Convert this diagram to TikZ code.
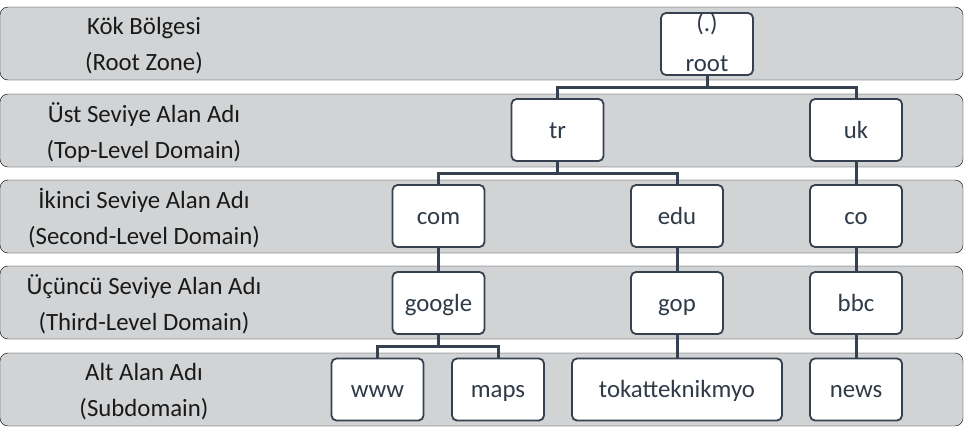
\documentclass[tikz,border=0pt]{standalone}
\usepackage{fontspec}
\setmainfont{Carlito}
\usepackage{tikz}
\usetikzlibrary{calc}

\definecolor{bandgray}{HTML}{D1D3D5}
\definecolor{linecol}{HTML}{36414F}
\definecolor{txtcol}{HTML}{2F3A48}

\tikzset{
  band/.style={fill=bandgray,rounded corners=8pt},
  bandtext/.style={align=center,text=black!90,font=\fontsize{24.8}{36}\selectfont},
  dnsbox/.style={draw=linecol,line width=1.8pt,fill=white,rounded corners=5pt,
    minimum width=92pt,minimum height=62pt,inner sep=0pt,align=center,
    text height=20pt,text depth=4pt,
    text=txtcol,font=\fontsize{24.8}{36}\selectfont},
  link/.style={draw=linecol,line width=3pt}
}

\begin{document}
\begin{tikzpicture}[x=1pt,y=-1pt]
       \useasboundingbox(0,0)rectangle(964,439);%cerceve

       \foreach \t/\a/\b in{7/Kök Bölgesi/(Root Zone),
                            94/Üst Seviye Alan Adı/(Top-Level Domain),
                            180/İkinci Seviye Alan Adı/(Second-Level Domain),
                            266/Üçüncü Seviye Alan Adı/(Third-Level Domain),
                            353/Alt Alan Adı/(Subdomain)}
           \draw[band](0,\t)rectangle(963,\t+73)
               (144,\t+38.5)node[bandtext]{\a\\\b};%seviye bantlari

       \node[dnsbox,text height=,text depth=](root)at(707,44){};%kok
       \node[txtcol,font=\fontsize{24.8}{40}\selectfont,align=center,inner sep=0pt]
           (rootlbl)at(707,43){(.)\\root};
       \node[dnsbox](tr)at(557.5,130){tr};
       \node[dnsbox](uk)at(856,130){uk};
       \node[dnsbox](com)at(438.5,216){com};
       \node[dnsbox](edu)at(677,216){edu};
       \node[dnsbox](co)at(856,216){co};
       \node[dnsbox](google)at(438.5,303){google};
       \node[dnsbox](gop)at(677,303){gop};
       \node[dnsbox](bbc)at(856,303){bbc};
       \node[dnsbox](www)at(377.5,389.5){www};
       \node[dnsbox](maps)at(498,389.5){maps};
       \node[dnsbox,minimum width=210pt](tokat)at(677,389.5){tokatteknikmyo};
       \node[dnsbox](news)at(856,389.5){news};

       \draw[link](root.south)--++(0,12)-|(tr.north);%root-tr
       \draw[link](root.south)--++(0,12)-|(uk.north);%root-uk
       \draw[link](tr.south)--++(0,12)-|(com.north);
       \draw[link](tr.south)--++(0,12)-|(edu.north);
       \draw[link](google.south)--++(0,12)-|(www.north);
       \draw[link](google.south)--++(0,12)-|(maps.north);

       \foreach \p/\c in{uk/co,com/google,edu/gop,co/bbc,gop/tokat,bbc/news}
           \draw[link](\p.south)--(\c.north);%duz baglantilar

      \end{tikzpicture}
\end{document}
